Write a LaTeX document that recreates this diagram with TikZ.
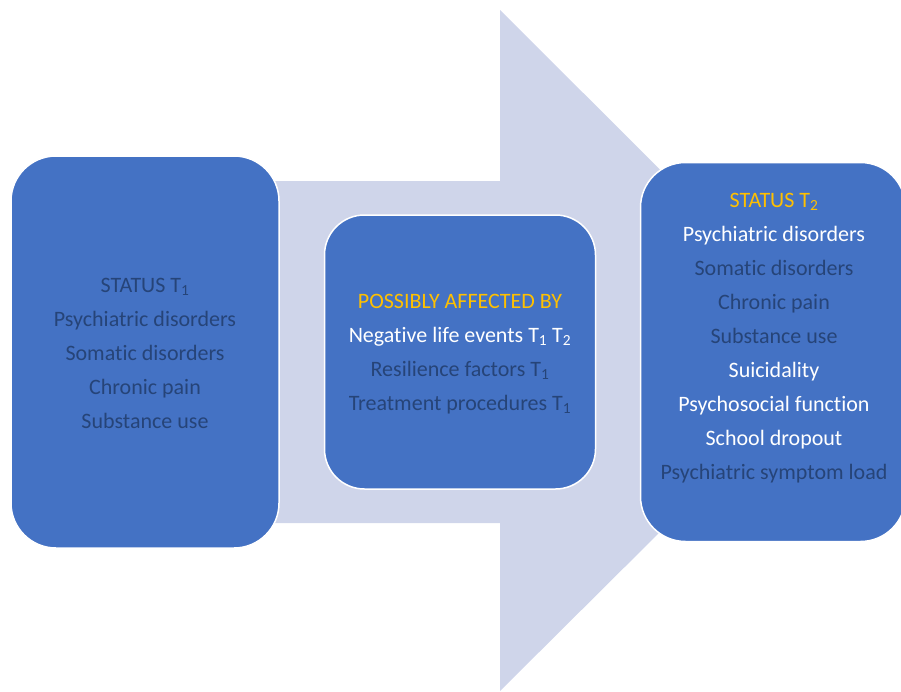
\documentclass[tikz,border=0pt]{standalone}
\usepackage{fontspec}
\setmainfont{Carlito}[Ligatures=NoCommon]
\definecolor{boxblue}{HTML}{4472C4}
\definecolor{arrowblue}{HTML}{CFD5EA}
\definecolor{darktext}{HTML}{264478}
\definecolor{gold}{HTML}{FFC000}
\begin{document}
\begin{tikzpicture}[x=1pt, y=-1pt,
    statusbox/.style={fill=boxblue, draw=white, line width=1.5pt, rounded corners=45pt, inner sep=0pt},
    listtext/.style={align=center, text=darktext, font=\fontsize{22}{34}\selectfont, inner sep=0pt}]
    \useasboundingbox (0, 0) rectangle (901, 691);
    \clip (0, 0) rectangle (901, 691);
    % arrow
    \fill [arrowblue] (40, 181) -- (500, 181) -- (500, 10) -- (842, 351) -- (500, 691) -- (500, 523) -- (40, 523) -- cycle;
    % T1
    \node [statusbox, minimum width=268pt, minimum height=392pt] (t1) at (145, 352) {};
    \node [listtext] (t1list) at (145, 353) {STATUS T\textsubscript{1}\\ Psychiatric disorders\\ Somatic disorders\\ Chronic pain\\ Substance use};
    % affected by
    \node [statusbox, minimum width=271pt, minimum height=274pt, rounded corners=40pt] (mid) at (460, 352) {};
    \node [listtext] (midlist) at (460, 354) {\textcolor{gold}{POSSIBLY AFFECTED BY}\\ \textcolor{white}{Negative life events T\textsubscript{1} T\textsubscript{2}}\\ Resilience factors T\textsubscript{1}\\ Treatment procedures T\textsubscript{1}};
    % T2
    \node [statusbox, minimum width=265pt, minimum height=379pt] (t2) at (773, 352) {};
    \node [listtext] (t2list) at (774, 338) {\textcolor{gold}{STATUS T\textsubscript{2}}\\ \textcolor{white}{Psychiatric disorders}\\ Somatic disorders\\ Chronic pain\\ Substance use\\ \textcolor{white}{Suicidality}\\ \textcolor{white}{Psychosocial function}\\ \textcolor{white}{School dropout}\\ Psychiatric symptom load};
\end{tikzpicture}
\end{document}
